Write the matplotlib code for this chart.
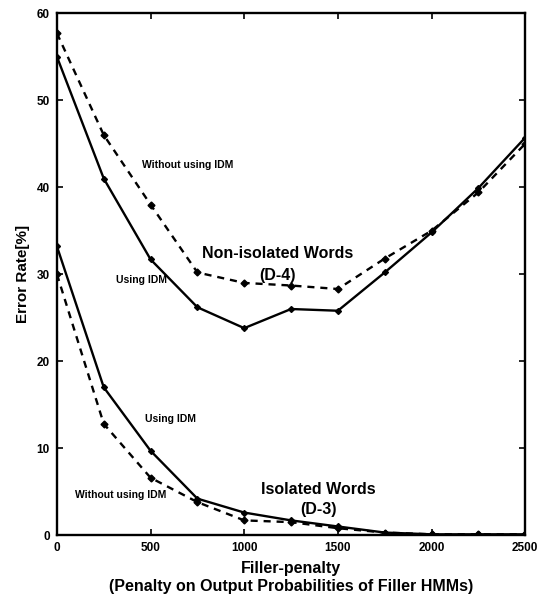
import matplotlib
matplotlib.use("Agg")
import matplotlib.pyplot as plt

plt.rcParams['font.family'] = ['Liberation Sans', 'DejaVu Sans']
plt.rcParams['font.weight'] = 'bold'
plt.rcParams['axes.labelweight'] = 'bold'

penalty = [0, 250, 500, 750, 1000, 1250, 1500, 1750, 2000, 2250, 2500]

# Non-isolated words (D-4)
d4_idm = [55.0, 41.0, 31.7, 26.2, 23.8, 26.0, 25.8, 30.2, 34.8, 39.9, 45.7]
d4_no_idm = [57.7, 46.0, 38.0, 30.2, 29.0, 28.7, 28.3, 31.8, 35.0, 39.4, 45.0]

# Isolated words (D-3)
d3_idm = [33.2, 17.0, 9.7, 4.2, 2.6, 1.7, 1.0, 0.3, 0.1, 0.1, 0.1]
d3_no_idm = [30.0, 12.8, 6.6, 3.8, 1.7, 1.5, 0.8, 0.3, 0.1, 0.1, 0.1]

fig = plt.figure(figsize=(5.37, 6.02), dpi=100)
ax = fig.add_axes([0.106, 0.111, 0.872, 0.867])

ax.plot(penalty, d4_idm, 'k-', lw=1.7, marker='D', ms=3)
ax.plot(penalty, d4_no_idm, 'k--', lw=1.7, marker='D', ms=3.5, dashes=(3, 2.5))
ax.plot(penalty, d3_idm, 'k-', lw=1.7, marker='D', ms=3)
ax.plot(penalty, d3_no_idm, 'k--', lw=1.7, marker='D', ms=3.5, dashes=(3, 2.5))

# curve labels
small = dict(fontsize=7.5, ha='center', va='center')
big = dict(fontsize=11.5, ha='center', va='center')
ax.text(699, 42.5, 'Without using IDM', **small)
ax.text(453, 29.3, 'Using IDM', **small)
ax.text(1178, 32.4, 'Non-isolated Words', **big)
ax.text(1180, 29.9, '(D-4)', **big)
ax.text(605, 13.4, 'Using IDM', **small)
ax.text(342, 4.6, 'Without using IDM', **small)
ax.text(1395, 5.3, 'Isolated Words', **big)
ax.text(1395, 2.9, '(D-3)', **big)

ax.set_xlim(0, 2500)
ax.set_ylim(0, 60)
ax.set_xticks(range(0, 2501, 500))
ax.set_yticks(range(0, 61, 10))
ax.tick_params(direction='in', top=True, right=True, length=4, width=1.2,
               labelsize=8.5, pad=5)
for s in ax.spines.values():
    s.set_linewidth(1.7)

ax.set_ylabel('Error Rate[%]', fontsize=11, labelpad=5)
ax.set_xlabel('Filler-penalty\n(Penalty on Output Probabilities of Filler HMMs)',
              fontsize=11.5, labelpad=5, linespacing=1.25)

fig.savefig('out.png', dpi=100)
